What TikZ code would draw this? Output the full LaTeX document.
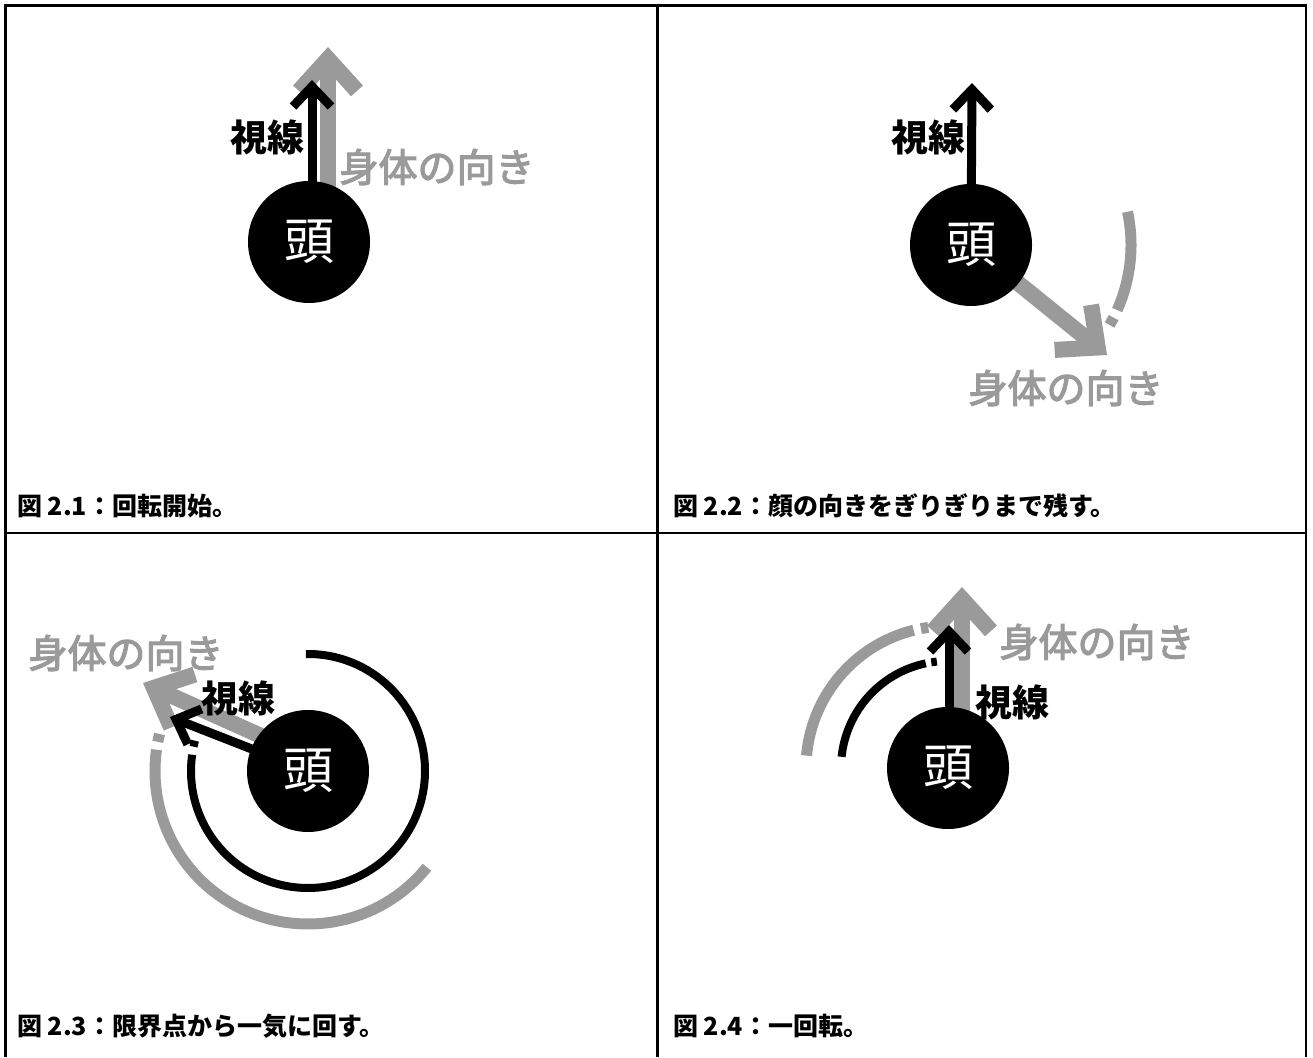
\documentclass[tikz,border=0pt]{standalone}
\usepackage{fontspec}
\newfontfamily\jp{Noto Sans CJK JP}
\newfontfamily\jpmed[RawFeature={embolden=3}]{Noto Sans CJK JP}
\usetikzlibrary{arrows.meta,calc}
\pgfdeclarelayer{bg}
\pgfsetlayers{bg,main}
\definecolor{bodygray}{HTML}{9A9A9A}
\tikzset{
  head/.style={circle,fill=black,minimum size=122pt,inner sep=0pt,text=white,font=\jp\fontsize{50}{50}\selectfont},
  gazelbl/.style={text=black,font=\jp\bfseries\fontsize{37}{37}\selectfont,inner sep=0pt},
  bodylbl/.style={text=bodygray,font=\jpmed\fontsize{39}{39}\selectfont,inner sep=0pt},
  caption/.style={anchor=west,font=\jp\bfseries\fontsize{25}{25}\selectfont,inner sep=0pt},
  gazearrow/.style={draw=black,line width=9pt,-{Straight Barb[length=20pt,width=38pt]}},
  bodyarrow/.style={draw=bodygray,line width=16pt,-{Straight Barb[length=32pt,width=58pt]}},
  gazearc/.style={draw=black,line width=8pt},
  bodyarc/.style={draw=bodygray,line width=11pt},
  frameline/.style={draw=black,line width=2.5pt}
}
\begin{document}
\begin{tikzpicture}[x=1pt,y=1pt]
\useasboundingbox (0,0) rectangle (1313,1057);
% frame
\draw[frameline] (5.5,0) -- (5.5,1051.5) -- (1306,1051.5) -- (1306,0);
\draw[frameline] (657.5,0) -- (657.5,1051.5);
\draw[frameline] (5.5,524) -- (1306,524);

% ---------- panel 1 ----------
\node[head] (h1) at (309,815) {頭};
\coordinate (b1) at (312,977);
\coordinate (g1) at (328,1010);
\begin{pgfonlayer}{bg}
\draw[bodyarrow] ($(h1.center)+(19,0)$) -- (g1);
\draw[gazearrow] ($(h1.center)+(3,0)$) -- (b1);
\end{pgfonlayer}
\node[gazelbl] (s1) at (267,920) {視線};
\node[bodylbl] (t1) at (437,890) {身体の向き};
\node[caption] (c1) at (17,551) {図 2.1：回転開始。};

% ---------- panel 2 ----------
\node[head] (h2) at (971,812) {頭};
\coordinate (b2) at (972,974);
\coordinate (g2) at (1107,702);
\begin{pgfonlayer}{bg}
\draw[bodyarrow] (h2.center) -- (g2);
\draw[gazearrow] (h2.center) -- (b2);
\end{pgfonlayer}
\draw[bodyarc] ($(h2.center)+(12:160)$) arc[start angle=12,end angle=-24,radius=160];
\draw[bodyarc] ($(h2.center)+(-27:160)$) arc[start angle=-27,end angle=-30,radius=160];
\node[gazelbl] (s2) at (928,920) {視線};
\node[bodylbl] (t2) at (1066,669) {身体の向き};
\node[caption] (c2) at (673,551) {図 2.2：顔の向きをぎりぎりまで残す。};

% ---------- panel 3 ----------
\node[head] (h3) at (308,286) {頭};
\coordinate (b3) at (170,340);
\coordinate (g3) at (143,374);
\begin{pgfonlayer}{bg}
\draw[bodyarrow] ($(h3.center)+(0,14)$) -- (g3);
\draw[gazearrow] (h3.center) -- (b3);
\end{pgfonlayer}
\draw[gazearc] ($(h3.center)+(91:117)$) arc[start angle=91,end angle=-188,radius=117];
\draw[gazearc] ($(h3.center)+(-192:117)$) arc[start angle=-192,end angle=-195,radius=117];
\draw[bodyarc] ($(h3.center)+(-39:153)$) arc[start angle=-39,end angle=-188,radius=153];
\draw[bodyarc] ($(h3.center)+(-191:153)$) arc[start angle=-191,end angle=-194,radius=153];
\node[gazelbl] (s3) at (238,359) {視線};
\node[bodylbl] (t3) at (126,404) {身体の向き};
\node[caption] (c3) at (17,31) {図 2.3：限界点から一気に回す。};

% ---------- panel 4 ----------
\node[head] (h4) at (948,289) {頭};
\coordinate (b4) at (949,432);
\coordinate (g4) at (962,470);
\begin{pgfonlayer}{bg}
\draw[bodyarrow] ($(h4.center)+(14,0)$) -- (g4);
\draw[gazearrow] ($(h4.center)+(1,0)$) -- (b4);
\end{pgfonlayer}
\draw[gazearc] ($(h4.center)+(174:107)$) arc[start angle=174,end angle=102,radius=107];
\draw[gazearc] ($(h4.center)+(99:107)$) arc[start angle=99,end angle=96,radius=107];
\draw[bodyarc] ($(h4.center)+(175:142)$) arc[start angle=175,end angle=104,radius=142];
\draw[bodyarc] ($(h4.center)+(101:142)$) arc[start angle=101,end angle=98,radius=142];
\node[gazelbl] (s4) at (1012,355) {視線};
\node[bodylbl] (t4) at (1097,415) {身体の向き};
\node[caption] (c4) at (673,31) {図 2.4：一回転。};
\end{tikzpicture}
\end{document}
